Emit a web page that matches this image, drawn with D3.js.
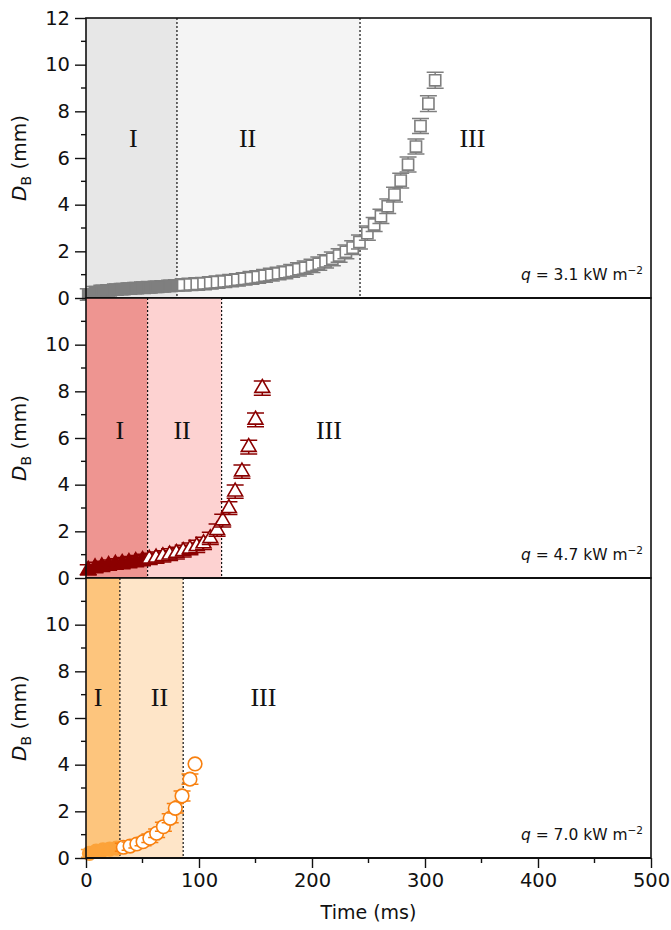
<!DOCTYPE html>
<html>
<head>
<meta charset="utf-8">
<script src="https://cdn.jsdelivr.net/npm/d3@7"></script>
<style>
  body { margin: 0; background: #fff; }
  svg text { font-family: "DejaVu Sans", Arial, sans-serif; }
  .roman { font-family: "Liberation Serif", "Times New Roman", serif; font-size: 26px; }
</style>
</head>
<body>
<svg id="chart" width="671" height="930"></svg>
<script>
// q = 3.1 kW m-2 (grey squares)
const topTime = [2, 8, 14, 20, 26, 32, 38, 44, 50, 56, 62, 68, 74, 80, 86, 92, 98, 104, 110, 116,
  122, 128, 134, 140, 146, 152, 158, 164, 170, 176, 182, 188, 194, 200, 206, 212, 218, 224, 230, 236,
  242, 249, 255, 261, 267, 273, 278.5, 285, 292, 296, 303, 309];
const topDiameter = [0.15, 0.25, 0.3, 0.33, 0.36, 0.38, 0.4, 0.42, 0.44, 0.46, 0.48, 0.5, 0.52, 0.54, 0.56, 0.58, 0.6, 0.62, 0.65, 0.68,
  0.71, 0.74, 0.78, 0.82, 0.86, 0.9, 0.95, 1.0, 1.05, 1.1, 1.16, 1.23, 1.3, 1.38, 1.47, 1.57, 1.68, 1.82, 1.98, 2.16,
  2.4, 2.78, 3.15, 3.5, 3.93, 4.43, 5.03, 5.72, 6.49, 7.37, 8.33, 9.33];
const topError = [0.2, 0.2, 0.2, 0.2, 0.2, 0.2, 0.2, 0.2, 0.2, 0.2, 0.2, 0.2, 0.2, 0.2, 0.22, 0.22, 0.22, 0.22, 0.22, 0.22,
  0.22, 0.22, 0.22, 0.22, 0.23, 0.23, 0.23, 0.23, 0.23, 0.23, 0.23, 0.24, 0.24, 0.24, 0.24, 0.24, 0.25, 0.25, 0.25, 0.25,
  0.26, 0.26, 0.26, 0.26, 0.27, 0.27, 0.27, 0.28, 0.28, 0.28, 0.29, 0.3];

// q = 4.7 kW m-2 (dark red triangles)
const midTime = [2, 8, 14, 20, 26, 32, 38, 44, 50, 56, 62, 68, 74, 80, 86, 92, 98, 104, 110, 116,
  121, 126.5, 132, 138, 144, 150, 156];
const midDiameter = [0.35, 0.45, 0.5, 0.55, 0.6, 0.64, 0.68, 0.72, 0.77, 0.82, 0.87, 0.93, 1.0, 1.07, 1.15, 1.25, 1.36, 1.48, 1.7, 2.05,
  2.46, 2.99, 3.7, 4.56, 5.61, 6.78, 8.14];
const midError = [0.18, 0.18, 0.18, 0.18, 0.18, 0.2, 0.2, 0.2, 0.2, 0.2, 0.2, 0.2, 0.21, 0.21, 0.21, 0.21, 0.22, 0.22, 0.22, 0.22,
  0.23, 0.23, 0.24, 0.24, 0.25, 0.25, 0.26];

// q = 7.0 kW m-2 (orange circles)
const botTime = [3, 9, 15, 21, 27, 33, 39, 45, 50.5, 56.5, 62.5, 68.5, 74.5, 79, 85, 92, 96.5];
const botDiameter = [0.2, 0.3, 0.35, 0.38, 0.42, 0.46, 0.51, 0.6, 0.7, 0.85, 1.06, 1.34, 1.7, 2.13, 2.66, 3.38, 4.03];
const botError = [0.12, 0.12, 0.12, 0.12, 0.12, 0.13, 0.13, 0.13, 0.13, 0.14, 0.14, 0.15, 0.15, 0.16, 0.17, 0.18, 0];

const xTicks = [0, 100, 200, 300, 400, 500];
const romanLabels = ["I", "II", "III"];

var panels = [
  { time: topTime, diameter: topDiameter, error: topError, bounds: [80.5, 242.5],
    color: "#7f7f7f", fillI: "#7f7f7f", symbol: d3.symbolSquare, size: 125,
    shades: ["#e7e7e7", "#f4f4f4"], heatFlux: "3.1", labelX: [42, 143, 342], labelY: 6.85, maxTick: 12 },
  { time: midTime, diameter: midDiameter, error: midError, bounds: [54.5, 120],
    color: "#8b0000", fillI: "#8b0000", symbol: d3.symbolTriangle, size: 95,
    shades: ["#ee9591", "#fdd2d1"], heatFlux: "4.7", labelX: [30, 85, 215], labelY: 6.35, maxTick: 10 },
  { time: botTime, diameter: botDiameter, error: botError, bounds: [30, 86],
    color: "#f8800f", fillI: "#fca33a", symbol: d3.symbolCircle, size: 145,
    shades: ["#fdc57d", "#fee5c8"], heatFlux: "7.0", labelX: [10.6, 65, 157], labelY: 6.9, maxTick: 10 },
];

var svg = d3.select("#chart");
var left = 86, right = 651, top0 = 18, panelHeight = 280;
var tickFont = 19.5;

var x = d3.scaleLinear().domain([0, 500]).range([left, right]);

panels.forEach(function (panel, p) {
  var yTop = top0 + p * panelHeight;
  var y = d3.scaleLinear().domain([0, 12]).range([yTop + panelHeight, yTop]);
  var g = svg.append("g");

  // shaded stages
  var edges = [0, panel.bounds[0], panel.bounds[1]];
  for (var i = 0; i < 2; i++) {
    g.append("rect")
      .attr("x", x(edges[i]))
      .attr("y", y(12))
      .attr("width", x(edges[i + 1]) - x(edges[i]))
      .attr("height", y(0) - y(12))
      .attr("fill", panel.shades[i]);
  }
  panel.bounds.forEach(function (b) {
    g.append("line")
      .attr("x1", x(b)).attr("x2", x(b))
      .attr("y1", y(12)).attr("y2", y(0))
      .attr("stroke", "#111")
      .attr("stroke-width", 1.2)
      .attr("stroke-dasharray", "2,2");
  });

  romanLabels.forEach(function (label, i) {
    g.append("text")
      .attr("class", "roman")
      .attr("x", x(panel.labelX[i]))
      .attr("y", y(panel.labelY))
      .attr("dy", "0.35em")
      .attr("text-anchor", "middle")
      .attr("fill", "#111")
      .text(label);
  });

  // data points: error bar under each marker
  var points = panel.time.map(function (t, i) {
    return { t: t, d: panel.diameter[i], e: panel.error[i] };
  });
  var inStageI = function (d) { return d.t < panel.bounds[0]; };
  var sym = d3.symbol().type(panel.symbol).size(panel.size);
  var pts = g.append("g").selectAll("g").data(points).join("g")
    .attr("transform", function (d) { return "translate(" + x(d.t) + "," + y(d.d) + ")"; });
  pts.filter(function (d) { return d.e > 0; }).append("path")
    .attr("d", function (d) {
      var h = y(0) - y(d.e) + 1;
      return "M0," + (-h) + "V" + h + "M-8.5," + (-h) + "H8.5M-8.5," + h + "H8.5";
    })
    .attr("fill", "none")
    .attr("stroke", function (d) { return inStageI(d) ? panel.fillI : panel.color; })
    .attr("stroke-width", 1.5);
  pts.append("path")
    .attr("d", sym)
    .attr("fill", function (d) { return inStageI(d) ? panel.fillI : "#fff"; })
    .attr("stroke", function (d) { return inStageI(d) ? panel.fillI : panel.color; })
    .attr("stroke-width", 1.6);

  // heat flux note
  var note = g.append("text")
    .attr("x", 643)
    .attr("y", y(0) - 18)
    .attr("text-anchor", "end")
    .attr("font-size", 15.5)
    .attr("fill", "#111");
  note.append("tspan").attr("font-style", "italic").text("q");
  note.append("tspan").text(" = " + panel.heatFlux + " kW m");
  note.append("tspan").attr("font-size", 10.5).attr("dy", -6).text("\u22122");

  // y axis
  var yAxis = d3.axisLeft(y)
    .tickValues(d3.range(0, panel.maxTick + 1, 2))
    .tickSize(11)
    .tickPadding(5);
  var ya = g.append("g").attr("transform", "translate(" + left + ",0)").call(yAxis);
  ya.select(".domain").remove();
  ya.attr("font-family", null).attr("font-size", null);
  ya.selectAll("text").attr("font-size", tickFont).attr("fill", "#111");
  ya.selectAll("line").attr("stroke", "#111").attr("stroke-width", 1.4);
  g.append("g").selectAll("line").data(d3.range(1, 12, 2)).join("line")
    .attr("x1", left - 5).attr("x2", left)
    .attr("y1", function (d) { return y(d); }).attr("y2", function (d) { return y(d); })
    .attr("stroke", "#111").attr("stroke-width", 1.4);

  // y label
  var yl = g.append("text")
    .attr("transform", "translate(26," + y(6) + ") rotate(-90)")
    .attr("text-anchor", "middle")
    .attr("font-size", 20)
    .attr("fill", "#111");
  yl.append("tspan").attr("font-style", "italic").text("D");
  yl.append("tspan").attr("font-size", 14).attr("dy", 5).text("B");
  yl.append("tspan").attr("dy", -5).text(" (mm)");

  // frame
  g.append("rect")
    .attr("x", left).attr("y", y(12))
    .attr("width", right - left).attr("height", y(0) - y(12))
    .attr("fill", "none").attr("stroke", "#111").attr("stroke-width", 1.6);
  g.append("line")
    .attr("x1", left).attr("x2", right)
    .attr("y1", y(0)).attr("y2", y(0))
    .attr("stroke", "#111").attr("stroke-width", 2.2);
});

// shared x axis
var xAxis = d3.axisBottom(x).tickValues(xTicks).tickSize(10).tickPadding(5);
var xa = svg.append("g").attr("transform", "translate(0," + (top0 + 3 * panelHeight) + ")").call(xAxis);
xa.select(".domain").remove();
xa.attr("font-family", null).attr("font-size", null);
xa.selectAll("text").attr("font-size", tickFont).attr("fill", "#111");
xa.selectAll("line").attr("stroke", "#111").attr("stroke-width", 1.4);
svg.append("g").selectAll("line").data([50, 150, 250, 350, 450]).join("line")
  .attr("x1", function (d) { return x(d); }).attr("x2", function (d) { return x(d); })
  .attr("y1", top0 + 3 * panelHeight).attr("y2", top0 + 3 * panelHeight + 5)
  .attr("stroke", "#111").attr("stroke-width", 1.4);

svg.append("text")
  .attr("x", x(250))
  .attr("y", 919)
  .attr("text-anchor", "middle")
  .attr("font-size", 19)
  .attr("fill", "#111")
  .text("Time (ms)");
</script>
</body>
</html>
